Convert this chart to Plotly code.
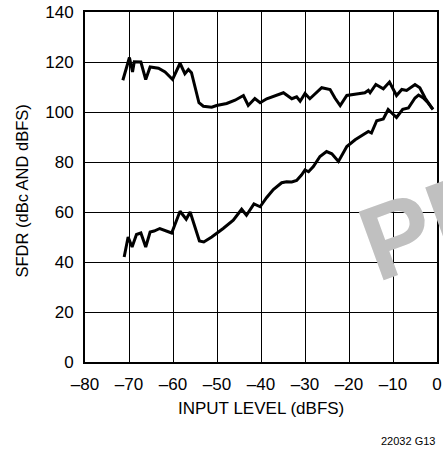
import plotly.graph_objects as go

# --- data ---
# upper curve: SFDR in dBc
x_dbc = [-71.4, -69.9, -69.2, -68.8, -67.3, -66.2, -65.2, -63.3, -61.8, -60.1,
         -58.4, -57.3, -56.5, -55.8, -54.1, -53.1, -51.2, -50.1, -47.8, -45.9,
         -44.0, -42.9, -41.4, -40.2, -38.7, -36.8, -34.9, -33.0, -31.9, -31.1,
         -30.0, -28.9, -26.2, -24.3, -23.2, -22.0, -20.5, -17.9, -16.4, -15.6,
         -15.2, -13.9, -12.2, -10.8, -9.2, -8.0, -6.9, -5.0, -3.9, -2.7, -1.0]
y_dbc = [112.7, 121.8, 116.0, 120.1, 120.0, 113.0, 118.0, 117.5, 116.0, 113.0,
         119.5, 115.3, 117.0, 115.7, 103.7, 102.3, 101.9, 102.6, 103.4, 104.7,
         106.6, 102.6, 105.4, 103.7, 105.3, 106.6, 107.7, 105.3, 106.1, 104.3,
         107.4, 105.3, 109.7, 109.0, 105.6, 102.6, 106.6, 107.3, 107.7, 108.7,
         107.7, 111.0, 109.3, 112.0, 106.6, 109.0, 108.6, 111.0, 109.7, 105.6, 101.2]

# lower curve: SFDR in dBFS
x_dbfs = [-71.1, -70.2, -69.3, -68.3, -67.3, -66.2, -65.2, -64.3, -63.0, -60.3,
          -58.4, -57.0, -56.1, -54.0, -53.0, -51.2, -48.6, -46.3, -44.4, -43.3,
          -41.6, -40.2, -38.7, -37.2, -35.3, -34.2, -33.0, -31.9, -30.8, -30.0,
          -29.2, -28.1, -26.6, -25.1, -23.9, -22.4, -20.5, -18.6, -16.8, -15.6,
          -14.9, -13.7, -12.2, -11.1, -9.2, -7.8, -6.5, -5.0, -4.2, -3.1, -2.0, -0.9]
y_dbfs = [42.0, 50.0, 46.0, 51.0, 51.6, 46.0, 52.0, 52.4, 53.4, 51.6,
          60.3, 57.1, 60.0, 48.4, 48.0, 50.0, 53.4, 56.7, 61.1, 58.7,
          63.2, 62.1, 65.8, 69.0, 71.7, 72.1, 72.0, 72.6, 74.8, 76.8,
          76.1, 78.2, 82.2, 84.2, 83.3, 80.2, 86.2, 88.9, 90.9, 92.2,
          91.6, 96.5, 97.2, 101.0, 97.8, 101.1, 101.6, 105.6, 106.8, 105.6, 103.6, 101.0]

x_ticks = [-80, -70, -60, -50, -40, -30, -20, -10, 0]
x_ticktext = ["\u201380", "\u201370", "\u201360", "\u201350", "\u201340",
              "\u201330", "\u201320", "\u201310", "0"]
y_ticks = [0, 20, 40, 60, 80, 100, 120, 140]

FONT = "Liberation Sans, Arial"

fig = go.Figure()

for xs, ys, label in [(x_dbc, y_dbc, "dBc"), (x_dbfs, y_dbfs, "dBFS")]:
    fig.add_trace(go.Scatter(
        x=xs, y=ys,
        mode='lines',
        line=dict(color='black', width=3),
        name=label,
        showlegend=False
    ))

axis_common = dict(
    showgrid=True, gridcolor='black', gridwidth=1,
    showline=True, linecolor='black', linewidth=2, mirror=True,
    zeroline=False, automargin=False, ticklabeloverflow='allow',
    tickfont=dict(family=FONT, size=17, color='black'),
)

fig.update_layout(
    width=443, height=449,
    margin=dict(l=85, r=6, t=12, b=87),
    paper_bgcolor='white', plot_bgcolor='white',
    template='none',
    xaxis=dict(range=[-80, 0], tickvals=x_ticks, ticktext=x_ticktext,
               ticklabelstandoff=6, **axis_common),
    yaxis=dict(range=[0, 140], tickvals=y_ticks, ticklabelstandoff=6, **axis_common),
    annotations=[
        # watermark
        dict(text="<b>PR</b>", xref='paper', yref='paper',
             x=0.728, y=0.16, xanchor='left', yanchor='bottom', showarrow=False,
             textangle=-20,
             font=dict(family="Liberation Sans, Arial", size=106, color='#c0c0c0')),
        dict(text="INPUT LEVEL (dBFS)", xref='paper', yref='paper',
             x=0.50, y=-0.133, xanchor='center', yanchor='middle', showarrow=False,
             font=dict(family=FONT, size=17, color='black')),
        dict(text="SFDR (dBc AND dBFS)", xref='paper', yref='paper',
             x=-0.179, y=0.49, xanchor='center', yanchor='middle', showarrow=False,
             textangle=-90, font=dict(family=FONT, size=16.5, color='black')),
        dict(text="22032 G13", xref='paper', yref='paper',
             x=1.0, y=-0.225, xanchor='right', yanchor='middle', showarrow=False,
             font=dict(family=FONT, size=11, color='black')),
    ],
)

# drop the default 8px body margin so the figure fills the window
fig.write_html("out.html", config={'displayModeBar': False},
               post_script="document.body.style.margin = '0';")
